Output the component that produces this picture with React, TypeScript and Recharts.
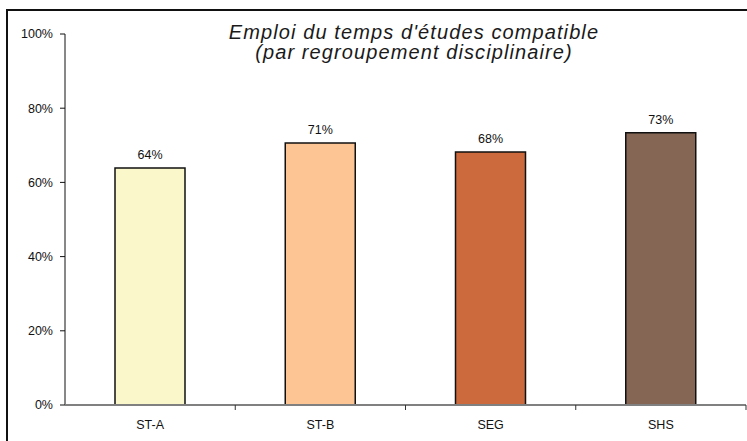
import { Bar, BarChart, Cell, LabelList, XAxis, YAxis } from "recharts"

const categories = ["ST-A", "ST-B", "SEG", "SHS"]
const values = [63.9, 70.6, 68.2, 73.4]
const colors = ["#FAF7CB", "#FCC593", "#CC693D", "#856655"]
const yTicks = [0, 20, 40, 60, 80, 100]
const titleLines = ["Emploi du temps d'études compatible", "(par regroupement disciplinaire)"]

const data = categories.map((name, i) => ({ name, value: values[i] }))

const font = "'Liberation Sans', Arial, sans-serif"

function XTick(props: any) {
  const { x, y, payload } = props
  const half = payload && payload.offset ? payload.offset : 85
  return (
    <g>
      <line x1={x + half} y1={y} x2={x + half} y2={y + 5} stroke="#333" strokeWidth={1} />
      <text x={x} y={y + 24} textAnchor="middle" fontSize={12.5} fill="#111" fontFamily={font}>
        {payload.value}
      </text>
    </g>
  )
}

export default function App() {
  return (
    <div style={{ position: "absolute", left: 0, top: 0, width: 747, height: 441, background: "#fff" }}>
      <div
        style={{
          position: "absolute",
          left: 6,
          top: 9,
          width: 741,
          height: 432,
          borderLeft: "2px solid #111",
          borderTop: "2px solid #111",
        }}
      />
      <BarChart
        width={747}
        height={441}
        data={data}
        margin={{ top: 34, right: 1, left: 0, bottom: 0 }}
        style={{ fontFamily: font }}
      >
        <YAxis
          width={65}
          domain={[0, 100]}
          ticks={yTicks}
          tickFormatter={(v) => `${v}%`}
          axisLine={{ stroke: "#111" }}
          tickLine={{ stroke: "#111" }}
          tickSize={5}
          tick={{ fontSize: 12.5, fill: "#111" }}
          tickMargin={7}
        />
        <XAxis
          dataKey="name"
          height={36}
          axisLine={{ stroke: "#808080", strokeWidth: 2 }}
          tickLine={false}
          tickSize={0}
          tickMargin={0}
          tick={<XTick />}
          interval={0}
        />
        <Bar dataKey="value" stroke="#111" strokeWidth={1.5} barSize={70} isAnimationActive={false}>
          {data.map((d, i) => (
            <Cell key={d.name} fill={colors[i]} />
          ))}
          <LabelList
            dataKey="value"
            position="top"
            offset={9}
            formatter={(v: any) => `${Math.round(v)}%`}
            style={{ fontSize: 12.5, fill: "#111" }}
          />
        </Bar>
      </BarChart>
      <div
        style={{
          position: "absolute",
          left: 0,
          top: 22,
          width: 828,
          textAlign: "center",
          fontFamily: font,
          fontStyle: "italic",
          fontSize: 20,
          letterSpacing: 1.1,
          lineHeight: "20px",
          color: "#1a1a1a",
        }}
      >
        {titleLines.map((t) => (
          <div key={t}>{t}</div>
        ))}
      </div>
    </div>
  )
}
